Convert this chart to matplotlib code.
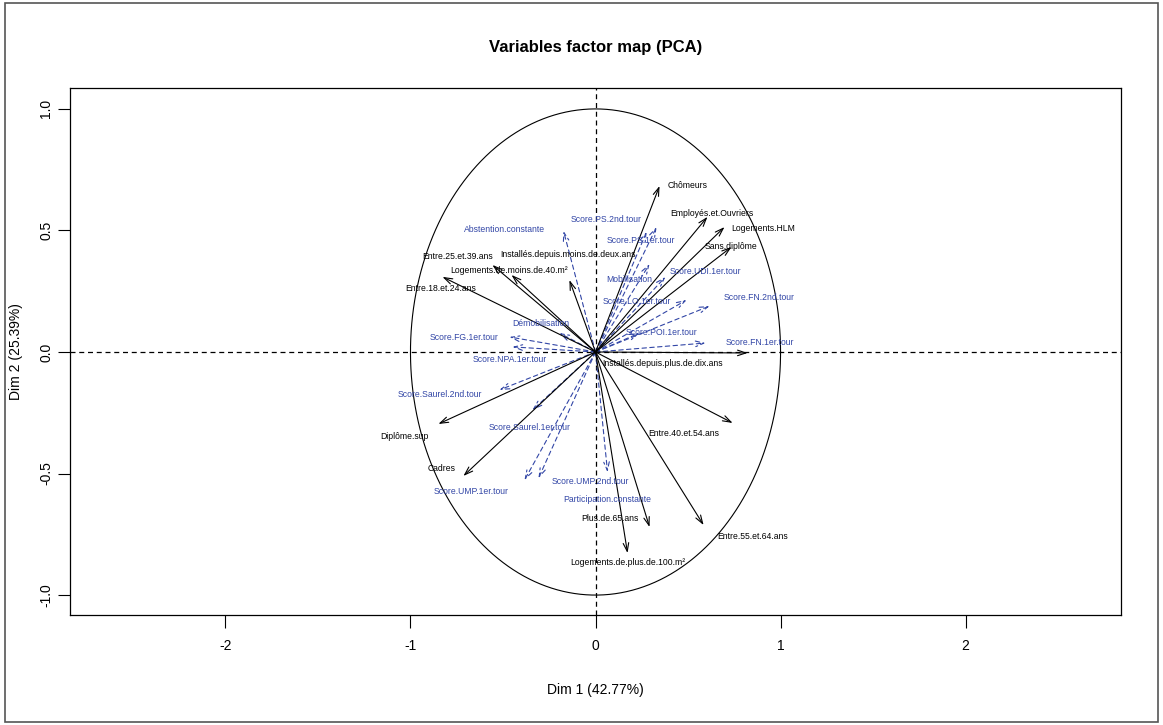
import matplotlib
matplotlib.use('Agg')
import numpy as np
import matplotlib.pyplot as plt
from matplotlib.patches import Rectangle

plt.rcParams['font.family'] = ['Liberation Sans', 'DejaVu Sans']
plt.rcParams['axes.unicode_minus'] = False

# Active variables (black, solid arrows): coordinates on Dim 1 / Dim 2
active_names = ['Chômeurs', 'Employés.et.Ouvriers', 'Logements.HLM', 'Sans.diplôme',
                'Entre.25.et.39.ans', 'Logements.de.moins.de.40.m²',
                'Installés.depuis.moins.de.deux.ans', 'Entre.18.et.24.ans',
                'Installés.depuis.plus.de.dix.ans', 'Entre.40.et.54.ans',
                'Entre.55.et.64.ans', 'Plus.de.65.ans', 'Logements.de.plus.de.100.m²',
                'Diplôme.sup', 'Cadres']
active_x = [0.346, 0.605, 0.697, 0.735, -0.557, -0.454, -0.141, -0.827,
            0.822, 0.741, 0.584, 0.292, 0.173, -0.849, -0.714]
active_y = [0.683, 0.556, 0.514, 0.432, 0.358, 0.317, 0.296, 0.309,
            -0.004, -0.292, -0.712, -0.720, -0.827, -0.296, -0.510]
# label anchors after overlap avoidance
active_lx = [0.497, 0.627, 0.908, 0.730, -0.746, -0.465, -0.151, -0.838,
             0.362, 0.476, 0.849, 0.076, 0.173, -1.032, -0.832]
active_ly = [0.687, 0.568, 0.510, 0.432, 0.391, 0.337, 0.403, 0.263,
             -0.049, -0.337, -0.757, -0.687, -0.868, -0.346, -0.481]

# Supplementary variables (blue, dashed arrows)
supp_names = ['Score.PS.2nd.tour', 'Abstention.constante', 'Score.PS.1er.tour',
              'Mobilisation', 'Score.UDI.1er.tour', 'Score.FN.2nd.tour',
              'Score.LO.1er.tour', 'Démobilisation', 'Score.POI.1er.tour',
              'Score.FG.1er.tour', 'Score.FN.1er.tour', 'Score.NPA.1er.tour',
              'Score.Saurel.2nd.tour', 'Score.Saurel.1er.tour', 'Score.UMP.1er.tour',
              'Score.UMP.2nd.tour', 'Participation.constante']
supp_x = [0.330, -0.173, 0.276, 0.292, 0.378, 0.616, 0.492, -0.195, 0.238,
          -0.465, 0.595, -0.449, -0.519, -0.341, -0.384, -0.308, 0.065]
supp_y = [0.514, 0.498, 0.494, 0.362, 0.309, 0.189, 0.214, 0.078, 0.078,
          0.062, 0.037, 0.021, -0.156, -0.239, -0.527, -0.519, -0.494]
supp_lx = [0.059, -0.492, 0.243, 0.184, 0.595, 0.886, 0.222, -0.297, 0.357,
           -0.708, 0.886, -0.465, -0.843, -0.357, -0.670, -0.027, 0.065]
supp_ly = [0.547, 0.502, 0.457, 0.300, 0.333, 0.226, 0.206, 0.119, 0.082,
           0.058, 0.041, -0.029, -0.173, -0.309, -0.572, -0.531, -0.605]

blue = '#3246a6'

fig = plt.figure(figsize=(11.63, 7.25), dpi=100)
ax = fig.add_axes([0.0602, 0.1517, 0.9037, 0.7269])

ax.set_xlim(-2.84, 2.84)
ax.set_ylim(-1.082, 1.086)

# unit circle (looks like an ellipse because aspect is not equal)
t = np.linspace(0, 2 * np.pi, 400)
ax.plot(np.cos(t), np.sin(t), color='black', lw=0.8)
ax.axhline(0, color='black', ls=(0, (4, 3)), lw=0.9)
ax.axvline(0, color='black', ls=(0, (4, 3)), lw=0.9)

for x, y in zip(supp_x, supp_y):
    ax.annotate('', xy=(x, y), xytext=(0, 0),
                arrowprops=dict(arrowstyle='->,head_length=0.6,head_width=0.2',
                                color=blue, lw=0.8, ls=(0, (4, 3)),
                                shrinkA=0, shrinkB=0))
for x, y in zip(active_x, active_y):
    ax.annotate('', xy=(x, y), xytext=(0, 0),
                arrowprops=dict(arrowstyle='->,head_length=0.6,head_width=0.2',
                                color='black', lw=0.8, shrinkA=0, shrinkB=0))

for name, lx, ly in zip(active_names, active_lx, active_ly):
    ax.text(lx, ly, name, ha='center', va='center', fontsize=6.2, color='black')
for name, lx, ly in zip(supp_names, supp_lx, supp_ly):
    ax.text(lx, ly, name, ha='center', va='center', fontsize=6.2, color=blue)

ax.set_xticks([-2, -1, 0, 1, 2])
ax.set_yticks([-1.0, -0.5, 0.0, 0.5, 1.0])
ax.set_yticklabels(['-1.0', '-0.5', '0.0', '0.5', '1.0'], rotation=90, va='center')
ax.tick_params(direction='out', length=9, width=0.8, labelsize=10)
ax.tick_params(axis='x', pad=8)
ax.tick_params(axis='y', pad=3)
for s in ax.spines.values():
    s.set_linewidth(0.9)

ax.set_xlabel('Dim 1 (42.77%)', fontsize=10, labelpad=22)
ax.set_ylabel('Dim 2 (25.39%)', fontsize=10, labelpad=12)
ax.set_title('Variables factor map (PCA)', fontsize=12, fontweight='bold', pad=26)

# outer frame around the whole figure
fig.patches.append(Rectangle((0.004, 0.004), 0.992, 0.992, transform=fig.transFigure,
                             fill=False, edgecolor='#555555', lw=1.2))

fig.savefig('out.png', dpi=100)
